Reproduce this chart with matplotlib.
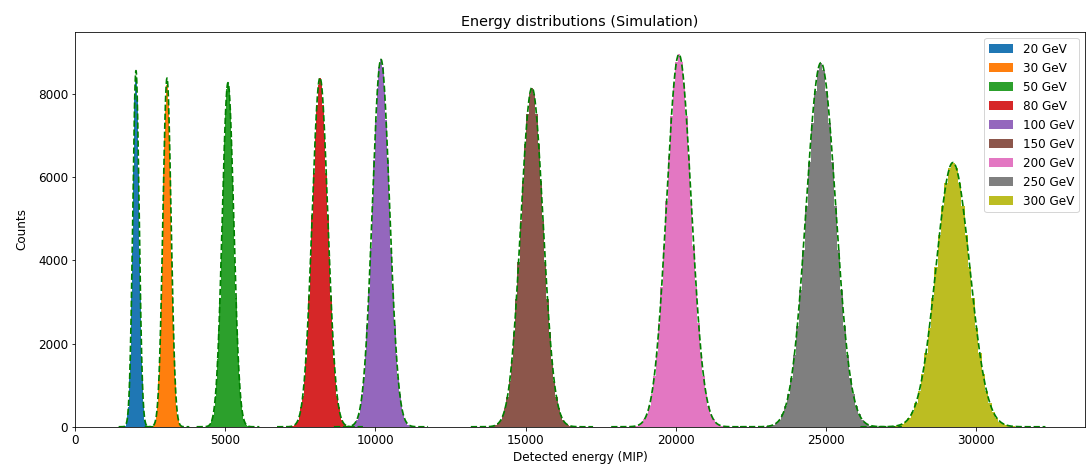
#!/usr/bin/env python3
"""Chart: Simulated energy distributions with Gaussian fits."""

import numpy as np
import matplotlib.pyplot as plt

# Peak parameters (MIP, counts)
labels = ["20 GeV", "30 GeV", "50 GeV", "80 GeV", "100 GeV",
          "150 GeV", "200 GeV", "250 GeV", "300 GeV"]
means = [2030, 3063, 5093, 8156, 10186, 15213, 20106, 24834, 29228]
sigmas = [105, 135, 190, 260, 285, 370, 410, 490, 560]
peaks = [8560, 8380, 8270, 8390, 8830, 8150, 8950, 8750, 6350]

colors = plt.rcParams["axes.prop_cycle"].by_key()["color"]
plt.rcParams["font.size"] = 12


def gauss(x, a, mu, s):
    return a * np.exp(-0.5 * ((x - mu) / s) ** 2)


fig, ax = plt.subplots(figsize=(1087 / 72, 469 / 72), dpi=72)
fig.subplots_adjust(left=0.069, right=0.998, top=0.932, bottom=0.09)

for lab, mu, s, a, c in zip(labels, means, sigmas, peaks, colors):
    edges = mu + s * (np.arange(-30, 31) - 0.5) * 0.2
    centers = 0.5 * (edges[:-1] + edges[1:])
    counts = np.round(gauss(centers, a, mu, s))
    ax.hist(centers, bins=edges, weights=counts, color=c, label=lab)
    xf = np.linspace(mu - 5.5 * s, mu + 5.5 * s, 300)
    ax.plot(xf, gauss(xf, a, mu, s), "g--", linewidth=1.7)

ax.set_xlim(0, 33620)
ax.set_ylim(0, 9490)
ax.set_xlabel("Detected energy (MIP)")
ax.set_ylabel("Counts", labelpad=9)
ax.set_title("Energy distributions (Simulation)")
ax.legend(loc="upper right")
plt.savefig("out.png", dpi=72)
